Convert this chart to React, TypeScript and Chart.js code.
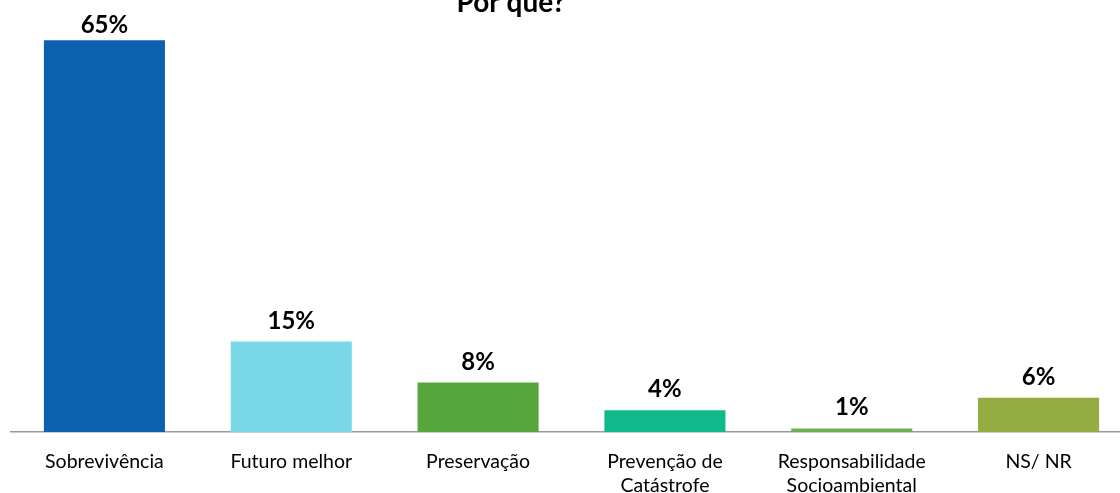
import React, { useEffect, useRef } from "react";
import { Chart, registerables } from "chart.js";

Chart.register(...registerables);

const categories: (string | string[])[] = [
  "Sobrevivência",
  "Futuro melhor",
  "Preservação",
  ["Prevenção de", "Catástrofe"],
  ["Responsabilidade", "Socioambiental"],
  "NS/ NR",
];
const values = [65, 15, 8.2, 3.6, 0.6, 5.7];
const valueLabels = ["65%", "15%", "8%", "4%", "1%", "6%"];
const barColors = ["#0C60AD", "#7AD8E8", "#55A73C", "#10B98A", "#6AAE55", "#93AD42"];
const title = "Por que?";

const OFF = 30;

export default function App() {
  const ref = useRef<HTMLCanvasElement | null>(null);
  useEffect(() => {
    document.body.style.margin = "0";
    const canvas = ref.current!;
    const labelPlugin = {
      id: "valueLabels",
      afterDatasetsDraw(chart: any) {
        const ctx = chart.ctx;
        const meta = chart.getDatasetMeta(0);
        ctx.save();
        ctx.font = "bold 24px Lato";
        ctx.fillStyle = "#000";
        ctx.textAlign = "center";
        ctx.textBaseline = "alphabetic";
        meta.data.forEach((bar: any, i: number) => {
          const y = Math.max(bar.y - 13, chart.chartArea.top + 23);
          ctx.fillText(valueLabels[i], bar.x, y);
        });
        ctx.font = "bold 28px Lato";
        ctx.fillText(title, 511, OFF + 12);
        ctx.restore();
      },
    };
    const chart = new Chart(canvas, {
      type: "bar",
      data: {
        labels: categories,
        datasets: [
          {
            data: values,
            backgroundColor: barColors,
            categoryPercentage: 1,
            barPercentage: 0.648,
          },
        ],
      },
      options: {
        responsive: false,
        animation: false,
        layout: { padding: { left: 11, right: 8, top: 40, bottom: 0 } },
        plugins: { legend: { display: false }, tooltip: { enabled: false }, title: { display: false } },
        scales: {
          x: {
            afterFit: (scale: any) => {
              scale.height = 61;
            },
            grid: { display: false, drawTicks: false },
            border: { display: true, color: "#9A9A9A", width: 1.5 },
            ticks: {
              color: "#000",
              font: { family: "Lato", size: 19.5, lineHeight: 1.23 },
              padding: 18,
              maxRotation: 0,
              autoSkip: false,
            },
          },
          y: {
            display: false,
            min: 0,
            max: 70,
          },
        },
      },
      plugins: [labelPlugin],
    });
    return () => chart.destroy();
  }, []);
  return (
    <div style={{ position: "relative", width: 1120, height: 493, overflow: "hidden", background: "#fff" }}>
      <canvas
        ref={ref}
        width={1140}
        height={493 + OFF}
        style={{ position: "absolute", left: 0, top: -OFF, width: 1140, height: 493 + OFF }}
      />
    </div>
  );
}
